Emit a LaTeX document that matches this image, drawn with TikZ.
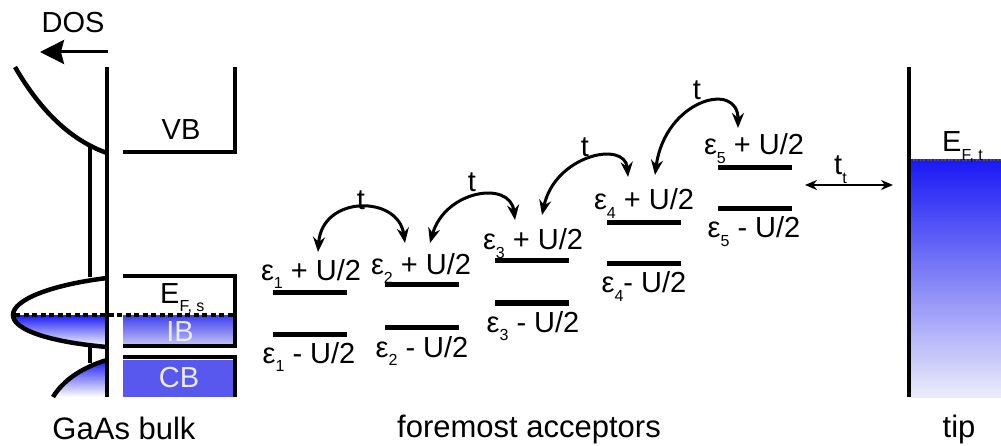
\documentclass[tikz,border=0pt]{standalone}
\usepackage{fontspec}
\setmainfont{Liberation Sans}
\usetikzlibrary{arrows.meta}
\definecolor{deepblue}{RGB}{25,25,245}
\definecolor{midblue}{RGB}{60,60,240}
\definecolor{lightblue}{RGB}{200,200,244}
\definecolor{paleblue}{RGB}{236,236,250}
\definecolor{cbblue}{RGB}{88,88,238}
\newcommand\sbs[1]{\raisebox{-0.28em}{\fontsize{16}{16}\selectfont #1}}
\tikzset{
  lab/.style={inner sep=0pt, anchor=base, font=\fontsize{29}{31}\selectfont},
  bottomlab/.style={inner sep=0pt, anchor=base, font=\fontsize{31}{33}\selectfont},
  whitelab/.style={inner sep=0pt, text=white!92!blue, font=\fontsize{29}{31}\selectfont},
  lvlbar/.style={fill=black, inner sep=0pt, minimum width=74pt, minimum height=5pt},
  heavy/.style={line width=4.5pt},
  hop/.style={line width=3pt, {Stealth[length=15pt,width=12pt]}-{Stealth[length=15pt,width=12pt]}},
  tiphop/.style={line width=2.5pt, {Stealth[length=12pt,width=10pt]}-{Stealth[length=12pt,width=10pt]}},
  dosarrow/.style={line width=3pt, -{Stealth[length=24pt,width=24pt,inset=3pt]}},
  fermi/.style={line width=4pt, dash pattern=on 5pt off 3.5pt},
}
\begin{document}
\begin{tikzpicture}[x=1pt,y=-1pt]
\useasboundingbox (0,0) rectangle (1001,446);

% ---------- GaAs bulk: fills ----------
\shade[top color=midblue, bottom color=lightblue] (123,315) rectangle (235,346);
\fill[cbblue] (123,360) rectangle (235,397);
% IB density of states (filled part below Fermi level)
\shade[top color=deepblue, bottom color=white]
  (13,315) .. controls (13,330) and (50,342) .. (107,347) -- (107,315) -- cycle;
% CB density of states
\shade[top color=deepblue, bottom color=white]
  (107,360) .. controls (80,368) and (62,382) .. (53,397) -- (107,397) -- cycle;

% ---------- GaAs bulk: lines ----------
\draw[heavy] (107,67) -- (107,397);
\draw[heavy] (90,145) -- (90,277);
\draw[heavy] (90,347) -- (90,363);
\draw[heavy] (15,67) .. controls (40,110) and (70,140) .. (107,153);
\draw[heavy] (107,278) .. controls (50,285) and (13,300) .. (13,315)
                       .. controls (13,330) and (50,342) .. (107,347);
\draw[heavy] (107,360) .. controls (80,368) and (62,382) .. (53,397);
\draw[heavy] (123,152) -- (235,152) -- (235,67);
\draw[heavy] (123,276) -- (235,276) -- (235,346) -- (123,346);
\draw[heavy] (123,357) -- (235,357) -- (235,397);
\draw[fermi] (15,315) -- (235,315);

\node[lab] (dos) at (73,33) {DOS};
\coordinate (dosa) at (108,52);
\coordinate (dosb) at (40,52);
\draw[dosarrow] (dosa) -- (dosb);
\node[lab] (vb) at (181,140) {VB};
\node[lab, anchor=base west] (efs) at (160,303) {E\sbs{F, s}};
\node[whitelab] (ib) at (180,332) {IB};
\node[whitelab] (cb) at (179,378) {CB};
\node[bottomlab] (gaas) at (124,439) {GaAs bulk};

% ---------- acceptor levels ----------
\node[lvlbar] (l1u) at (310,293) {};
\node[lvlbar] (l1d) at (310,334) {};
\node[lvlbar] (l2u) at (421.5,285) {};
\node[lvlbar] (l2d) at (421.5,327) {};
\node[lvlbar] (l3u) at (532,261) {};
\node[lvlbar] (l3d) at (532,303) {};
\node[lvlbar] (l4u) at (643.5,223) {};
\node[lvlbar] (l4d) at (643.5,264) {};
\node[lvlbar] (l5u) at (755,168) {};
\node[lvlbar] (l5d) at (755,209) {};

\node[lab] (e1u) at (311,280) {ε\sbs{1} + U/2};
\node[lab] (e1d) at (309,363) {ε\sbs{1} - U/2};
\node[lab] (e2u) at (421,275) {ε\sbs{2} + U/2};
\node[lab] (e2d) at (422,357) {ε\sbs{2} - U/2};
\node[lab] (e3u) at (533,250) {ε\sbs{3} + U/2};
\node[lab] (e3d) at (533,332) {ε\sbs{3} - U/2};
\node[lab] (e4u) at (644,210) {ε\sbs{4} + U/2};
\node[lab] (e4d) at (644,293) {ε\sbs{4}- U/2};
\node[lab] (e5u) at (754,155) {ε\sbs{5} + U/2};
\node[lab] (e5d) at (754,238) {ε\sbs{5} - U/2};

% hopping arrows
\coordinate (h1a) at (318,252); \coordinate (h1b) at (405,243);
\coordinate (h2a) at (430,243); \coordinate (h2b) at (515,220);
\coordinate (h3a) at (542,215); \coordinate (h3b) at (628,177);
\coordinate (h4a) at (655,175); \coordinate (h4b) at (738,128);
\draw[hop] (h1a) .. controls (322,195) and (398,195) .. (h1b);
\draw[hop] (h2a) .. controls (445,190) and (510,180) .. (h2b);
\draw[hop] (h3a) .. controls (555,155) and (625,140) .. (h3b);
\draw[hop] (h4a) .. controls (665,100) and (738,80) .. (h4b);
\node[lab] (t1) at (361,210) {t};
\node[lab] (t2) at (472,192) {t};
\node[lab] (t3) at (585,157) {t};
\node[lab] (t4) at (697,100) {t};

\node[bottomlab] (acc) at (529,437) {foremost acceptors};

% ---------- tip ----------
\shade[top color=deepblue, bottom color=paleblue] (909,160) rectangle (1001,397);
\draw[line width=2pt, dash pattern=on 2pt off 1.5pt, black!70] (909,160) -- (1001,160);
\draw[heavy] (909,67) -- (909,397);
\node[lab, anchor=base west] (eft) at (942,152) {E\sbs{F, t}};
\coordinate (tta) at (805,185);
\coordinate (ttb) at (893,185);
\draw[tiphop] (tta) -- (ttb);
\node[lab, anchor=base west] (tt) at (834,175) {t\sbs{t}};
\node[bottomlab] (tip) at (959,437) {tip};
\end{tikzpicture}
\end{document}
